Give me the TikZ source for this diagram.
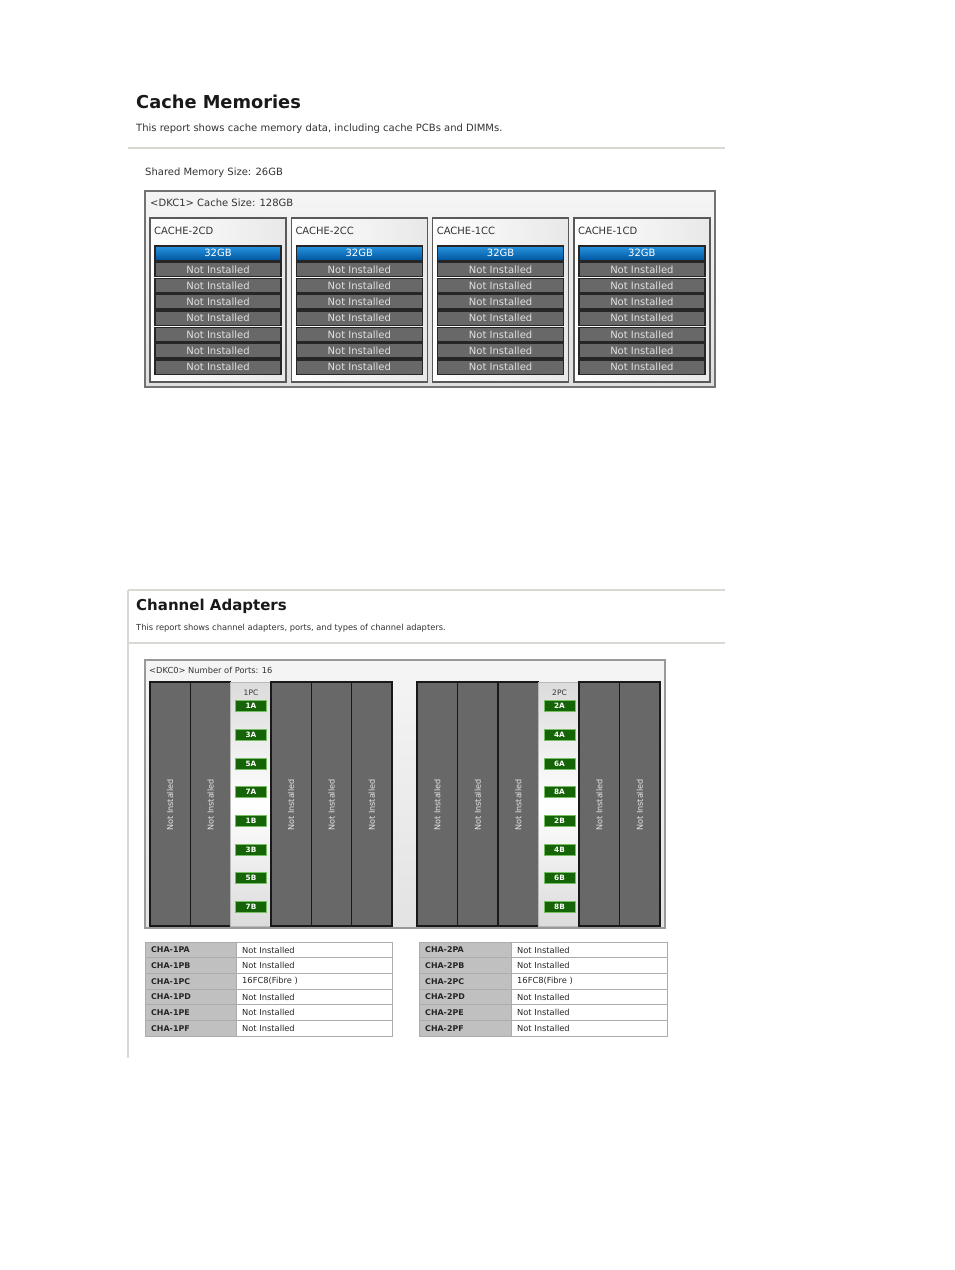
\documentclass[tikz,border=0pt]{standalone}
\usepackage{fontspec}
\setmainfont{DejaVu Sans}
\usepackage{tikz}
\usetikzlibrary{positioning,shapes}
\definecolor{slotgrau}{RGB}{104,104,104}
\definecolor{linie}{RGB}{218,216,210}
\definecolor{dimmblau}{RGB}{40,150,225}
\definecolor{dimmdunkel}{RGB}{0,85,160}
\definecolor{portgruen}{RGB}{22,100,8}
\definecolor{portrand}{RGB}{120,190,100}
\definecolor{tabgrau}{RGB}{192,192,192}

\begin{document}
\begin{tikzpicture}[x=1pt, y=-1pt,
    titel/.style={anchor=west, inner sep=0pt, text=black!90, font=\fontsize{17.8}{20}\selectfont\bfseries},
    info/.style={anchor=west, inner sep=0pt, text=black!80, font=\fontsize{10}{12}\selectfont},
    klein/.style={anchor=west, inner sep=0pt, text=black!80, font=\fontsize{8.3}{10}\selectfont},
    dimm/.style={draw=black!85, line width=1.5pt, fill=slotgrau, minimum width=126pt, minimum height=14.5pt,
                 inner sep=0pt, text=white!88!black, font=\fontsize{10}{11}\selectfont},
    dimmvoll/.style={dimm, top color=dimmblau, bottom color=dimmdunkel, text=white},
    port/.style={draw=portrand, line width=0.8pt, fill=portgruen, minimum width=31pt, minimum height=11pt,
                 inner sep=0pt, text=white, font=\fontsize{7.3}{8}\selectfont\bfseries},
    leer/.style={rotate=90, inner sep=0pt, text=white!90!black, font=\fontsize{8.1}{9}\selectfont},
    zelle/.style={anchor=west, inner sep=0pt, text=black!85, font=\fontsize{8.3}{9}\selectfont}]
  % Bildbereich
  \useasboundingbox[fill=white] (0,0) rectangle (954,1270);

  %%% Cache Memories
  \node[titel] (cmtitel) at (136,102) {Cache Memories};
  \node[info] (cminfo) at (136,129) {This report shows cache memory data, including cache PCBs and DIMMs.};
  \draw[linie, line width=1.5pt] (128,148) -- (725,148);
  \node[info] (shared) at (145,173) {Shared Memory Size: 26GB};
  % Rahmen DKC1
  \draw[draw=black!55, line width=1.5pt, top color=gray!8, bottom color=gray!25] (145,191) rectangle (715,387);
  \node[info] (dkcone) at (150,203) {<DKC1> Cache Size: 128GB};
  % Cache-Platinen
  \foreach \name [count=\i from 0] in {2CD,2CC,1CC,1CD} {
    \pgfmathsetmacro{\xl}{150+141.3*\i}
    \draw[draw=black!65, line width=1.5pt, left color=white, right color=gray!18] (\xl,218) rectangle (\xl+136,382);
    \node[info] (cn\i) at (\xl+4,231) {CACHE-\name};
    \node[dimmvoll] (c\i-0) at (\xl+68,253) {32GB};
    \foreach \j in {1,...,7}
      \node[dimm] (c\i-\j) at (\xl+68,253+16.3*\j) {Not Installed};
  }

  %%% Channel Adapters
  \draw[linie, line width=1.2pt] (128,590) -- (725,590);
  \draw[linie, line width=1.2pt] (128,643) -- (725,643);
  \draw[linie, line width=1.2pt] (128,590) -- (128,1058);
  \node[titel, font=\fontsize{15}{18}\selectfont\bfseries] (catitel) at (136,606) {Channel Adapters};
  \node[klein] (cainfo) at (136,628) {This report shows channel adapters, ports, and types of channel adapters.};
  % Rahmen DKC0
  \draw[draw=black!40, line width=1.5pt, top color=gray!8, bottom color=gray!22] (145,660) rectangle (665,928);
  \node[klein] (dkcnull) at (149,670) {<DKC0> Number of Ports: 16};
  % Steckplaetze links
  \foreach \k in {0,...,5} {
    \pgfmathsetmacro{\xs}{150+40.33*\k}
    \ifnum\k=2
      \draw[draw=gray!55, line width=1pt, top color=gray!28, bottom color=gray!28, middle color=white] (\xs,682) rectangle (\xs+40.33,926);
    \else
      \draw[draw=black!90, line width=1.6pt, fill=slotgrau] (\xs,682) rectangle (\xs+40.33,926);
      \node[leer] (sl\k) at (\xs+20.2,805) {Not Installed};
    \fi
  }
  \node[klein, anchor=center, font=\fontsize{7.5}{8}\selectfont] (pcone) at (251,693) {1PC};
  \foreach \p [count=\j from 0] in {1A,3A,5A,7A,1B,3B,5B,7B}
    \node[port] (pl\j) at (251,706+28.7*\j) {\p};
  % Steckplaetze rechts
  \foreach \k in {0,...,5} {
    \pgfmathsetmacro{\xs}{417+40.5*\k}
    \ifnum\k=3
      \draw[draw=gray!55, line width=1pt, top color=gray!28, bottom color=gray!28, middle color=white] (\xs,682) rectangle (\xs+40.5,926);
    \else
      \draw[draw=black!90, line width=1.6pt, fill=slotgrau] (\xs,682) rectangle (\xs+40.5,926);
      \node[leer] (sr\k) at (\xs+20.25,805) {Not Installed};
    \fi
  }
  \node[klein, anchor=center, font=\fontsize{7.5}{8}\selectfont] (pctwo) at (559.5,693) {2PC};
  \foreach \p [count=\j from 0] in {2A,4A,6A,8A,2B,4B,6B,8B}
    \node[port] (pr\j) at (559.5,706+28.7*\j) {\p};

  % Tabellen
  \foreach \tab/\xa/\xb/\xc in {1/145/236/392, 2/419/511/667} {
    \foreach \r/\typ [count=\j from 0] in {A/Not Installed, B/Not Installed, C/16FC8(Fibre ), D/Not Installed, E/Not Installed, F/Not Installed} {
      \pgfmathsetmacro{\ya}{942+15.67*\j}
      \draw[draw=gray!65, line width=0.8pt, fill=tabgrau] (\xa,\ya) rectangle (\xb,\ya+15.67);
      \draw[draw=gray!65, line width=0.8pt, fill=white] (\xb,\ya) rectangle (\xc,\ya+15.67);
      \node[zelle, font=\fontsize{7.9}{9}\selectfont\bfseries] (t\tab-\j) at (\xa+6,\ya+8) {CHA-\tab P\r};
      \node[zelle] (w\tab-\j) at (\xb+6,\ya+8) {\typ};
    }
  }
\end{tikzpicture}
\end{document}
